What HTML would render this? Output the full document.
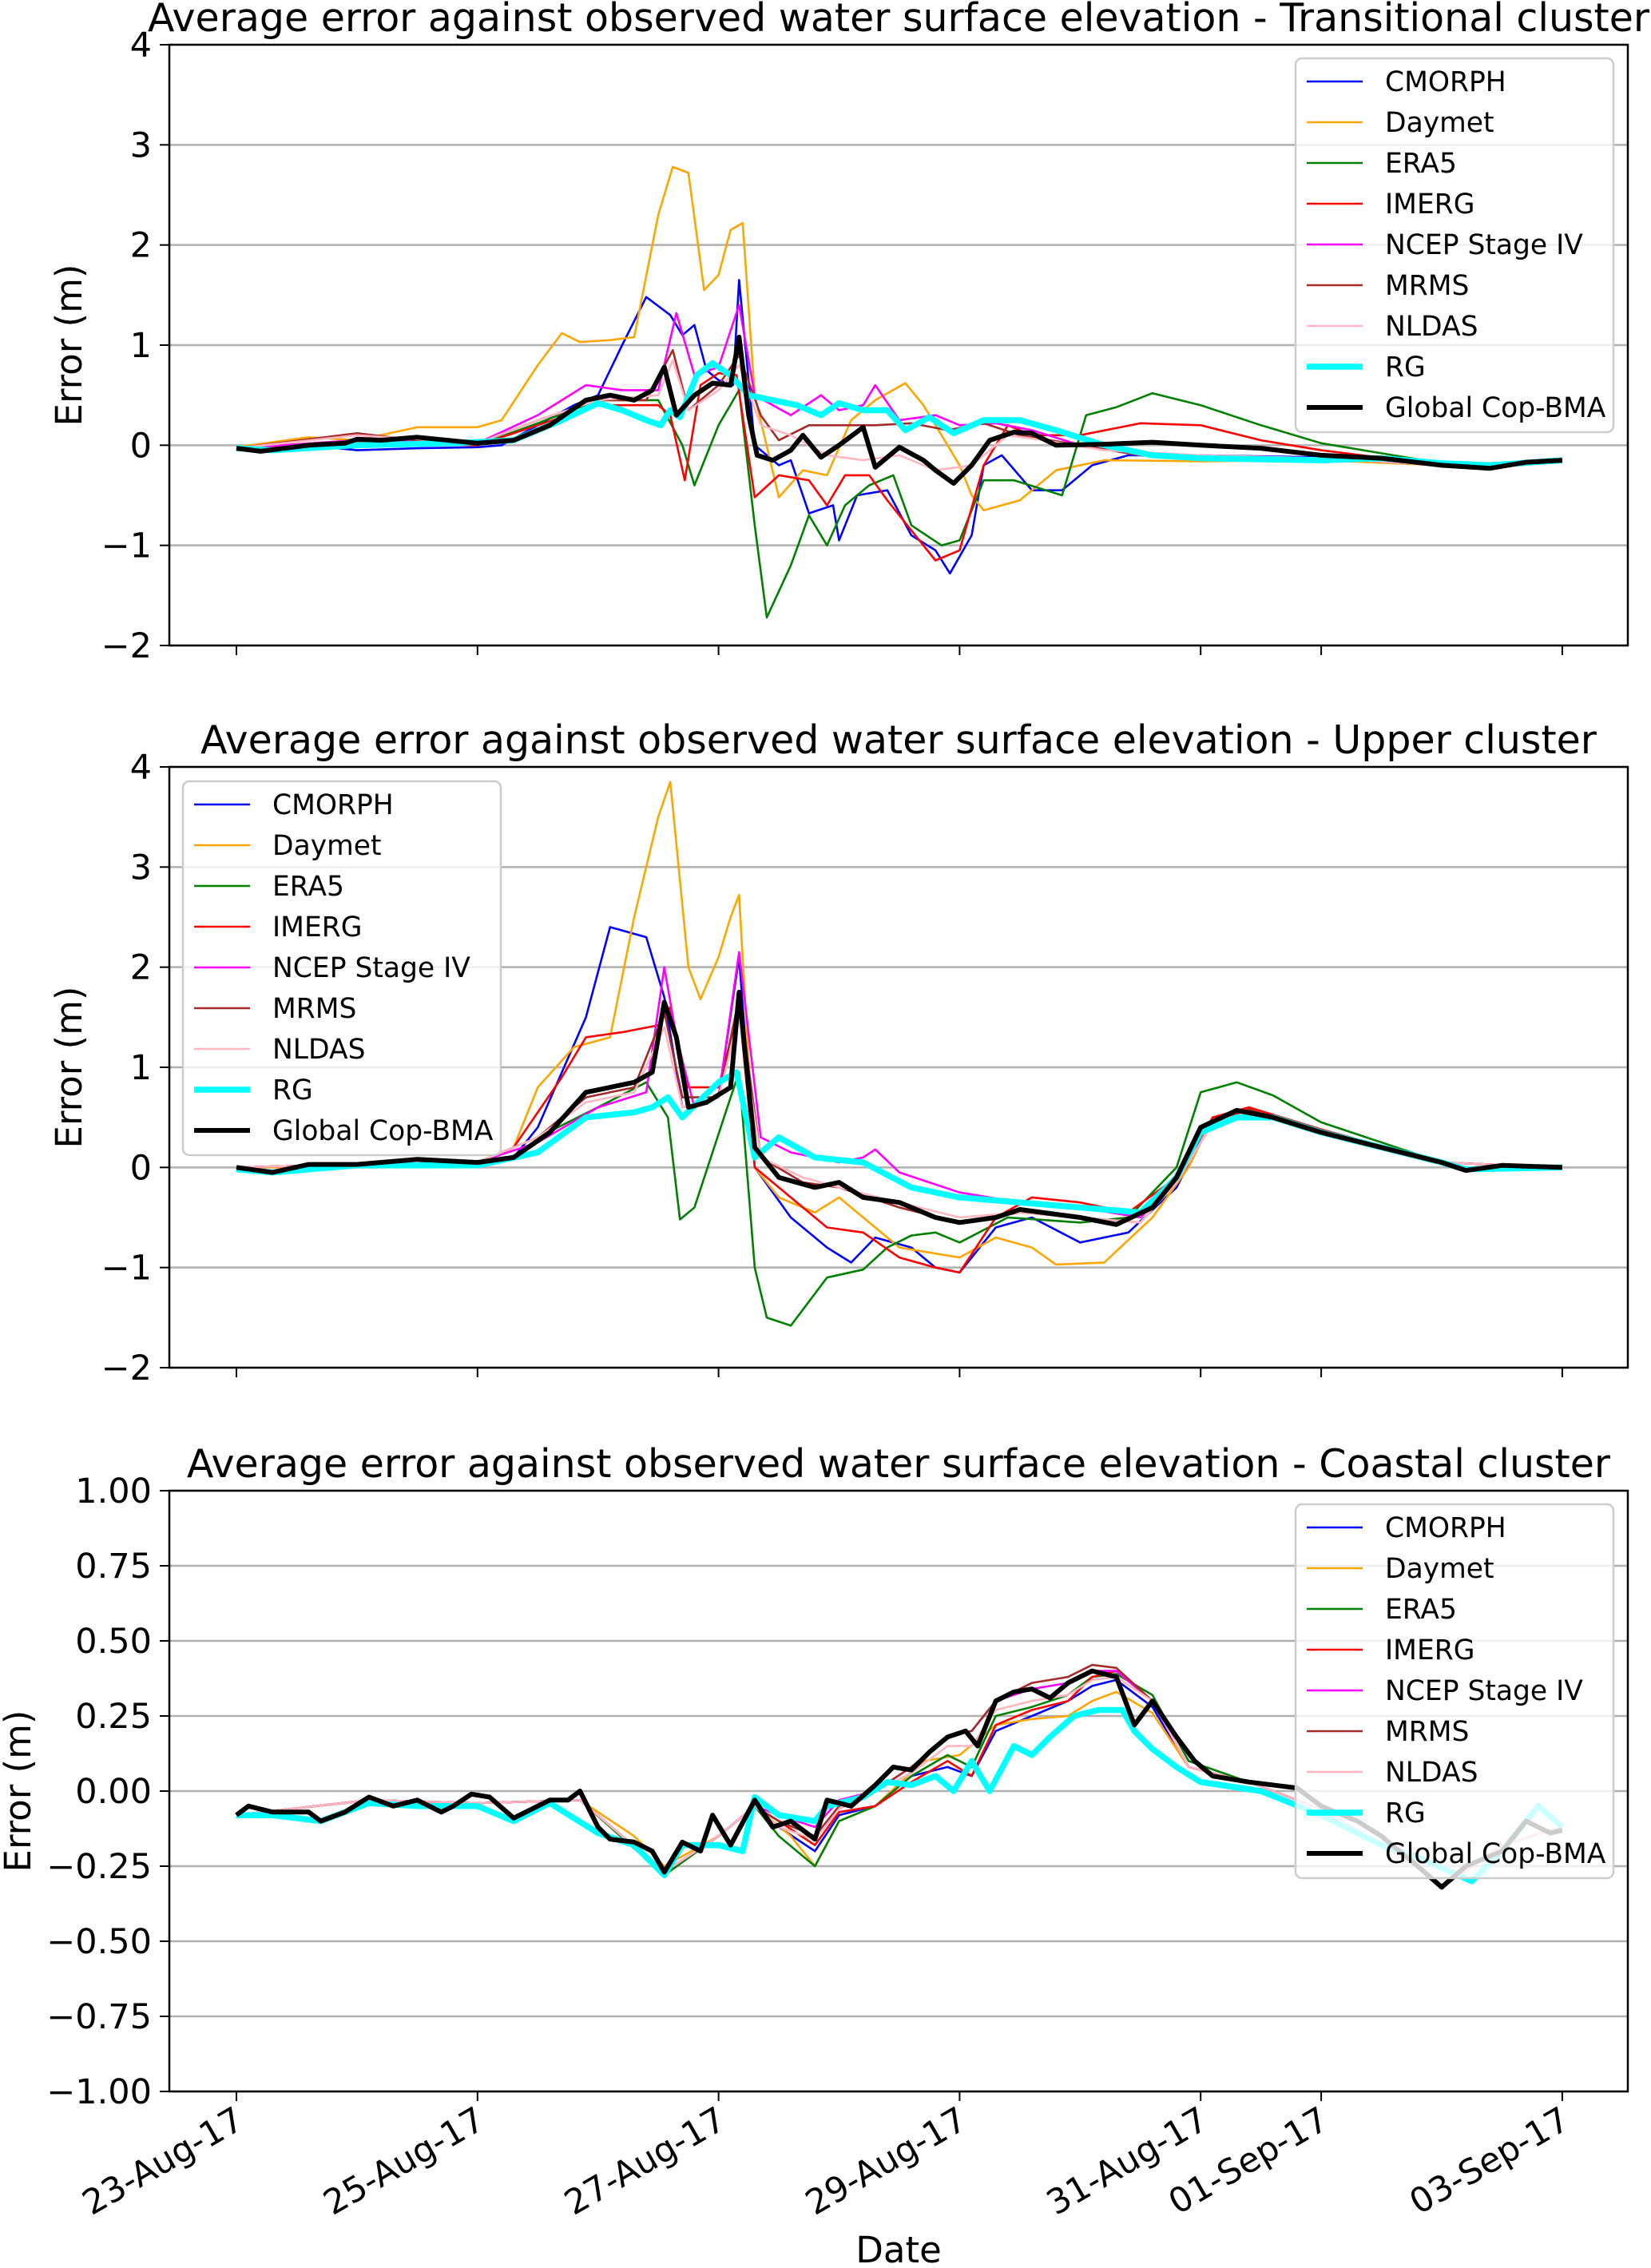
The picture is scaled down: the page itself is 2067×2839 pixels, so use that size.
<!DOCTYPE html>
<html><head><meta charset="utf-8">
<style>
html,body{margin:0;padding:0;background:#fff;}
svg{display:block;font-family:"DejaVu Sans","Liberation Sans",sans-serif;}
</style></head>
<body>
<svg id="chart" width="2067" height="2839" viewBox="0 0 2067 2839" xmlns="http://www.w3.org/2000/svg"></svg>
<script>
// ---- shared data ----
const seriesNames = ["CMORPH","Daymet","ERA5","IMERG","NCEP Stage IV","MRMS","NLDAS","RG","Global Cop-BMA"];
const dateTickDays = [0,2,4,6,8,9,11];
const dateTickLabels = ["23-Aug-17","25-Aug-17","27-Aug-17","29-Aug-17","31-Aug-17","01-Sep-17","03-Sep-17"];
const p1Title = "Average error against observed water surface elevation - Transitional cluster";
const p2Title = "Average error against observed water surface elevation - Upper cluster";
const p3Title = "Average error against observed water surface elevation - Coastal cluster";
const p1Ticks = [4,3,2,1,0,-1,-2];
const p1TickLabels = ["4","3","2","1","0","\u22121","\u22122"];
const p2Ticks = [4,3,2,1,0,-1,-2];
const p2TickLabels = ["4","3","2","1","0","\u22121","\u22122"];
const p3Ticks = [1,0.75,0.5,0.25,0,-0.25,-0.5,-0.75,-1];
const p3TickLabels = ["1.00","0.75","0.50","0.25","0.00","\u22120.25","\u22120.50","\u22120.75","\u22121.00"];

// ---- panel 1 (Transitional) : [day, error] ----
const p1_cmorph = [[0,-0.03],[0.3,-0.05],[0.6,0.0],[1.0,-0.05],[1.5,-0.03],[2.0,-0.02],[2.2,0.0],[2.5,0.2],[2.8,0.4],[3.0,0.5],[3.2,1.0],[3.4,1.48],[3.6,1.3],[3.7,1.1],[3.8,1.2],[3.9,0.75],[4.0,0.65],[4.12,0.6],[4.17,1.65],[4.3,0.0],[4.5,-0.2],[4.6,-0.15],[4.75,-0.68],[4.95,-0.6],[5.0,-0.95],[5.15,-0.5],[5.4,-0.45],[5.6,-0.9],[5.8,-1.05],[5.92,-1.28],[6.1,-0.9],[6.2,-0.2],[6.35,-0.1],[6.6,-0.45],[6.85,-0.45],[7.1,-0.2],[7.4,-0.1],[8,-0.1],[9,-0.12],[10,-0.2],[10.4,-0.22],[11,-0.15]];
const p1_daymet = [[0,-0.02],[0.6,0.08],[1.0,0.05],[1.5,0.18],[2.0,0.18],[2.2,0.25],[2.5,0.8],[2.7,1.12],[2.85,1.03],[3.1,1.05],[3.3,1.08],[3.5,2.3],[3.62,2.78],[3.75,2.72],[3.88,1.55],[4.0,1.7],[4.1,2.15],[4.2,2.22],[4.3,0.5],[4.5,-0.52],[4.7,-0.25],[4.9,-0.3],[5.1,0.25],[5.3,0.45],[5.55,0.62],[5.7,0.4],[5.85,0.1],[6.0,-0.2],[6.1,-0.5],[6.2,-0.65],[6.5,-0.55],[6.8,-0.25],[7.2,-0.15],[8,-0.16],[9,-0.15],[10,-0.2],[11,-0.15]];
const p1_era5 = [[0,-0.03],[1.0,0.05],[2.0,0.0],[2.5,0.22],[3.0,0.45],[3.5,0.45],[3.7,0.0],[3.8,-0.4],[4.0,0.2],[4.17,0.55],[4.3,-0.8],[4.4,-1.72],[4.6,-1.2],[4.75,-0.7],[4.9,-1.0],[5.05,-0.6],[5.25,-0.4],[5.45,-0.3],[5.6,-0.8],[5.85,-1.0],[6.0,-0.95],[6.2,-0.35],[6.45,-0.35],[6.85,-0.5],[7.05,0.3],[7.3,0.38],[7.6,0.52],[8.0,0.4],[8.5,0.2],[9,0.02],[9.5,-0.08],[10,-0.18],[10.5,-0.2],[11,-0.15]];
const p1_imerg = [[0,-0.03],[1.0,0.03],[2,0.0],[2.5,0.2],[3.0,0.4],[3.5,0.4],[3.6,0.3],[3.72,-0.35],[3.85,0.6],[4.0,0.72],[4.15,0.7],[4.3,-0.52],[4.5,-0.3],[4.75,-0.35],[4.9,-0.6],[5.05,-0.3],[5.25,-0.3],[5.4,-0.55],[5.6,-0.85],[5.8,-1.15],[6.0,-1.05],[6.2,-0.2],[6.4,0.2],[6.6,0.1],[7.0,0.1],[7.5,0.22],[8,0.2],[8.5,0.05],[9,-0.05],[10,-0.2],[11,-0.15]];
const p1_ncep = [[0,-0.03],[1.0,0.05],[2.0,0.02],[2.5,0.3],[2.9,0.6],[3.2,0.55],[3.5,0.55],[3.65,1.32],[3.8,0.7],[4.0,0.78],[4.17,1.4],[4.3,0.5],[4.6,0.3],[4.85,0.5],[5.0,0.35],[5.2,0.4],[5.3,0.6],[5.5,0.25],[5.8,0.3],[6.0,0.2],[6.3,0.22],[6.6,0.15],[7,0.0],[7.5,-0.1],[8,-0.12],[9,-0.13],[10,-0.2],[11,-0.15]];
const p1_mrms = [[0,-0.03],[1.0,0.12],[1.5,0.05],[2.0,0.02],[2.5,0.25],[3.0,0.45],[3.4,0.45],[3.62,0.95],[3.75,0.35],[4.0,0.6],[4.17,0.9],[4.35,0.3],[4.5,0.05],[4.75,0.2],[5.0,0.2],[5.3,0.2],[5.6,0.22],[5.9,0.15],[6.2,0.22],[6.5,0.1],[7,0.0],[7.5,-0.1],[8,-0.12],[9,-0.13],[10,-0.2],[11,-0.15]];
const p1_nldas = [[0,-0.03],[1.0,0.1],[2.0,0.02],[2.5,0.25],[3.0,0.45],[3.5,0.5],[3.62,0.85],[3.75,0.35],[4.0,0.55],[4.17,0.8],[4.35,0.2],[4.6,0.1],[4.9,-0.1],[5.2,-0.15],[5.5,-0.1],[5.8,-0.25],[6.1,-0.2],[6.4,0.1],[6.7,0.05],[7.2,-0.05],[8,-0.1],[9,-0.13],[10,-0.2],[11,-0.15]];
const p1_rg = [[0,-0.03],[0.3,-0.05],[1.0,0.0],[1.8,0.02],[2.3,0.05],[2.7,0.25],[3.0,0.42],[3.2,0.35],[3.4,0.25],[3.52,0.2],[3.6,0.35],[3.68,0.28],[3.82,0.7],[3.95,0.82],[4.1,0.7],[4.25,0.5],[4.45,0.45],[4.65,0.4],[4.85,0.3],[5.0,0.42],[5.2,0.35],[5.4,0.35],[5.55,0.15],[5.75,0.28],[5.95,0.12],[6.2,0.25],[6.5,0.25],[6.8,0.15],[7.2,0.0],[7.6,-0.1],[8.0,-0.13],[9,-0.15],[9.5,-0.13],[10,-0.18],[10.4,-0.2],[11,-0.15]];
const p1_global = [[0,-0.03],[0.2,-0.06],[0.6,0.0],[0.9,0.02],[1.0,0.06],[1.2,0.05],[1.5,0.08],[2.0,0.02],[2.3,0.05],[2.6,0.2],[2.9,0.45],[3.1,0.5],[3.3,0.45],[3.45,0.55],[3.55,0.78],[3.65,0.3],[3.8,0.5],[3.95,0.62],[4.1,0.6],[4.17,1.08],[4.25,0.3],[4.32,-0.1],[4.45,-0.15],[4.6,-0.05],[4.7,0.1],[4.85,-0.12],[5.0,0.0],[5.2,0.18],[5.3,-0.22],[5.5,-0.02],[5.7,-0.15],[5.8,-0.25],[5.95,-0.38],[6.1,-0.2],[6.25,0.05],[6.45,0.13],[6.6,0.12],[6.8,0.0],[7.2,0.01],[7.6,0.03],[8,0.0],[8.5,-0.03],[9,-0.1],[9.5,-0.13],[10,-0.2],[10.4,-0.23],[10.7,-0.17],[11,-0.15]];

// ---- panel 2 (Upper) ----
const p2_cmorph = [[0,0],[0.3,-0.05],[1,0.03],[2,0.05],[2.3,0.1],[2.5,0.4],[2.9,1.5],[3.1,2.4],[3.4,2.3],[3.55,1.7],[3.7,0.6],[4.0,0.7],[4.17,2.1],[4.3,0.0],[4.6,-0.5],[4.9,-0.8],[5.1,-0.95],[5.3,-0.7],[5.6,-0.8],[5.8,-1.0],[6.0,-1.05],[6.3,-0.6],[6.6,-0.5],[7.0,-0.75],[7.4,-0.65],[7.8,-0.2],[8.1,0.5],[8.4,0.55],[9,0.35],[10,0.05],[10.2,-0.02],[11,0.0]];
const p2_daymet = [[0,0],[1,0.0],[2,0.05],[2.3,0.2],[2.5,0.8],[2.8,1.2],[3.1,1.3],[3.3,2.5],[3.5,3.5],[3.6,3.85],[3.75,2.0],[3.85,1.68],[4.0,2.1],[4.1,2.5],[4.17,2.72],[4.3,0.0],[4.5,-0.3],[4.8,-0.45],[5.0,-0.3],[5.3,-0.6],[5.5,-0.8],[6.0,-0.9],[6.3,-0.7],[6.6,-0.8],[6.8,-0.97],[7.2,-0.95],[7.6,-0.5],[7.9,0.0],[8.1,0.5],[8.4,0.55],[9,0.35],[10,0.05],[11,0.0]];
const p2_era5 = [[0,0],[1,0.03],[2,0.05],[2.5,0.3],[3.0,0.6],[3.4,0.85],[3.58,0.5],[3.68,-0.52],[3.8,-0.4],[4.1,0.7],[4.17,0.95],[4.3,-1.0],[4.4,-1.5],[4.6,-1.58],[4.9,-1.1],[5.2,-1.02],[5.4,-0.8],[5.6,-0.68],[5.8,-0.65],[6.0,-0.75],[6.4,-0.5],[7.0,-0.55],[7.4,-0.5],[7.8,0.0],[8.0,0.75],[8.3,0.85],[8.6,0.72],[9,0.45],[10,0.05],[11,0.0]];
const p2_imerg = [[0,0],[1,0.03],[2,0.05],[2.3,0.2],[2.7,0.9],[2.9,1.3],[3.2,1.35],[3.5,1.42],[3.6,1.6],[3.75,0.8],[4.0,0.8],[4.17,1.6],[4.3,0.0],[4.6,-0.3],[4.9,-0.6],[5.2,-0.65],[5.5,-0.9],[5.8,-1.0],[6.0,-1.05],[6.3,-0.5],[6.6,-0.3],[7.0,-0.35],[7.4,-0.45],[7.8,-0.1],[8.1,0.5],[8.4,0.6],[9,0.38],[10,0.05],[11,0.0]];
const p2_ncep = [[0,0],[1,0.03],[2,0.05],[2.5,0.25],[3.0,0.6],[3.4,0.75],[3.55,2.0],[3.65,1.3],[3.8,0.6],[4.0,0.7],[4.17,2.15],[4.35,0.3],[4.6,0.15],[5.0,0.05],[5.2,0.1],[5.3,0.18],[5.5,-0.05],[6.0,-0.25],[6.5,-0.35],[7.0,-0.4],[7.5,-0.5],[7.8,-0.15],[8.1,0.45],[8.4,0.55],[9,0.35],[10,0.05],[11,0.0]];
const p2_mrms = [[0,0],[1,0.03],[2,0.05],[2.5,0.3],[2.9,0.7],[3.3,0.8],[3.55,1.55],[3.7,0.7],[4.0,0.7],[4.17,1.7],[4.35,0.1],[4.7,-0.15],[5.0,-0.2],[5.5,-0.4],[6.0,-0.55],[6.5,-0.45],[7.0,-0.5],[7.5,-0.55],[7.8,-0.15],[8.1,0.45],[8.4,0.58],[9,0.35],[10,0.05],[11,0.0]];
const p2_nldas = [[0,0],[1,0.03],[2,0.05],[2.5,0.3],[2.9,0.65],[3.3,0.75],[3.55,1.4],[3.7,0.6],[4.0,0.7],[4.17,1.5],[4.35,0.1],[4.7,-0.1],[5.0,-0.2],[5.5,-0.35],[6.0,-0.5],[6.5,-0.45],[7.0,-0.5],[7.5,-0.55],[7.8,-0.15],[8.1,0.45],[8.4,0.55],[9,0.35],[10,0.05],[11,0.0]];
const p2_rg = [[0,-0.02],[0.3,-0.05],[1.0,0.02],[2.0,0.02],[2.5,0.15],[2.9,0.5],[3.3,0.55],[3.45,0.6],[3.58,0.7],[3.7,0.5],[4.0,0.85],[4.15,0.95],[4.3,0.1],[4.5,0.3],[4.8,0.1],[5.2,0.05],[5.6,-0.2],[6.0,-0.3],[6.5,-0.35],[7.0,-0.4],[7.5,-0.45],[7.8,-0.1],[8.0,0.35],[8.3,0.5],[8.6,0.5],[9,0.35],[10,0.05],[10.2,-0.02],[11,0.0]];
const p2_global = [[0,0],[0.3,-0.05],[0.6,0.03],[1.0,0.03],[1.5,0.08],[2.0,0.05],[2.3,0.1],[2.6,0.35],[2.9,0.75],[3.1,0.8],[3.3,0.85],[3.45,0.95],[3.55,1.65],[3.65,1.3],[3.75,0.6],[3.9,0.65],[4.1,0.8],[4.17,1.75],[4.3,0.2],[4.5,-0.1],[4.8,-0.2],[5.0,-0.15],[5.2,-0.3],[5.5,-0.35],[5.8,-0.5],[6.0,-0.55],[6.3,-0.5],[6.5,-0.42],[7.0,-0.5],[7.3,-0.57],[7.6,-0.4],[7.8,-0.1],[8.0,0.4],[8.3,0.57],[8.6,0.5],[9,0.35],[9.5,0.2],[10,0.05],[10.2,-0.03],[10.5,0.02],[11,0.0]];

// ---- panel 3 (Coastal) ----
const p3_cmorph = [[0,-0.08],[1.1,-0.03],[2.0,-0.04],[2.85,-0.03],[3.55,-0.27],[4.0,-0.15],[4.3,-0.05],[4.5,-0.12],[4.8,-0.2],[5.0,-0.08],[5.3,-0.05],[5.6,0.05],[5.9,0.08],[6.1,0.05],[6.3,0.2],[6.6,0.25],[6.9,0.3],[7.1,0.35],[7.3,0.37],[7.6,0.28],[7.9,0.08],[8.4,0.03],[9.0,-0.06],[9.8,-0.25],[10.0,-0.32],[10.5,-0.18],[11,-0.12]];
const p3_daymet = [[0,-0.08],[1.1,-0.03],[2.0,-0.04],[2.85,-0.03],[3.3,-0.15],[3.55,-0.25],[4.0,-0.15],[4.3,-0.05],[4.6,-0.15],[4.8,-0.25],[5.0,-0.1],[5.3,-0.05],[5.7,0.1],[6.0,0.12],[6.3,0.22],[6.6,0.24],[6.9,0.25],[7.1,0.3],[7.3,0.33],[7.6,0.26],[7.9,0.08],[8.4,0.03],[9.0,-0.06],[9.8,-0.25],[10.0,-0.32],[10.5,-0.18],[11,-0.12]];
const p3_era5 = [[0,-0.08],[1.1,-0.03],[2.0,-0.04],[2.85,-0.03],[3.55,-0.28],[4.0,-0.15],[4.3,-0.05],[4.5,-0.15],[4.8,-0.25],[5.0,-0.1],[5.3,-0.05],[5.6,0.05],[5.9,0.12],[6.1,0.08],[6.3,0.25],[6.6,0.28],[6.9,0.32],[7.1,0.38],[7.3,0.39],[7.6,0.32],[7.9,0.1],[8.4,0.03],[9.0,-0.06],[9.8,-0.25],[10.0,-0.32],[10.5,-0.18],[11,-0.12]];
const p3_imerg = [[0,-0.08],[1.1,-0.03],[2.0,-0.04],[2.85,-0.03],[3.55,-0.27],[4.0,-0.15],[4.3,-0.05],[4.5,-0.1],[4.8,-0.18],[5.0,-0.07],[5.3,-0.05],[5.6,0.03],[5.9,0.1],[6.1,0.05],[6.3,0.22],[6.6,0.27],[6.9,0.3],[7.1,0.38],[7.3,0.4],[7.6,0.3],[7.9,0.08],[8.4,0.03],[9.0,-0.06],[9.8,-0.25],[10.0,-0.32],[10.5,-0.18],[11,-0.12]];
const p3_ncep = [[0,-0.08],[1.1,-0.03],[2.0,-0.04],[2.85,-0.03],[3.55,-0.27],[4.0,-0.15],[4.3,-0.05],[4.5,-0.08],[4.8,-0.12],[5.0,-0.03],[5.3,0.0],[5.6,0.08],[5.9,0.18],[6.1,0.2],[6.3,0.3],[6.6,0.34],[6.9,0.36],[7.1,0.4],[7.3,0.4],[7.6,0.3],[7.9,0.08],[8.4,0.03],[9.0,-0.06],[9.8,-0.25],[10.0,-0.32],[10.5,-0.18],[11,-0.12]];
const p3_mrms = [[0,-0.08],[1.1,-0.03],[2.0,-0.04],[2.85,-0.03],[3.55,-0.27],[4.0,-0.15],[4.3,-0.05],[4.5,-0.1],[4.8,-0.15],[5.0,-0.05],[5.3,0.0],[5.6,0.08],[5.9,0.18],[6.1,0.2],[6.3,0.3],[6.6,0.36],[6.9,0.38],[7.1,0.42],[7.3,0.41],[7.6,0.3],[7.9,0.08],[8.4,0.03],[9.0,-0.06],[9.8,-0.25],[10.0,-0.32],[10.5,-0.18],[11,-0.12]];
const p3_nldas = [[0,-0.08],[1.1,-0.03],[2.0,-0.04],[2.85,-0.03],[3.55,-0.27],[4.0,-0.15],[4.3,-0.05],[4.5,-0.12],[4.8,-0.16],[5.0,-0.06],[5.3,0.0],[5.6,0.06],[5.9,0.15],[6.1,0.15],[6.3,0.27],[6.6,0.3],[6.9,0.32],[7.1,0.37],[7.3,0.38],[7.6,0.3],[7.9,0.08],[8.4,0.03],[9.0,-0.06],[9.8,-0.25],[10.0,-0.32],[10.5,-0.18],[11,-0.12]];
const p3_rg = [[0,-0.08],[0.3,-0.08],[0.7,-0.1],[1.1,-0.04],[1.5,-0.05],[2.0,-0.05],[2.3,-0.1],[2.6,-0.04],[3.0,-0.14],[3.3,-0.18],[3.55,-0.28],[3.7,-0.18],[4.0,-0.18],[4.2,-0.2],[4.3,-0.02],[4.5,-0.08],[4.8,-0.1],[4.9,-0.05],[5.2,-0.02],[5.4,0.03],[5.6,0.02],[5.8,0.05],[5.95,0.0],[6.1,0.1],[6.25,0.0],[6.45,0.15],[6.6,0.12],[6.75,0.18],[6.95,0.25],[7.15,0.27],[7.35,0.27],[7.45,0.2],[7.6,0.14],[7.8,0.08],[8.0,0.03],[8.5,0.0],[9.0,-0.08],[9.5,-0.18],[9.8,-0.22],[10.25,-0.3],[10.5,-0.2],[10.8,-0.05],[11,-0.12]];
const p3_global = [[0,-0.08],[0.1,-0.05],[0.3,-0.07],[0.6,-0.07],[0.7,-0.1],[0.9,-0.07],[1.1,-0.02],[1.3,-0.05],[1.5,-0.03],[1.7,-0.07],[1.8,-0.05],[1.95,-0.01],[2.1,-0.02],[2.3,-0.09],[2.4,-0.07],[2.6,-0.03],[2.75,-0.03],[2.85,0.0],[3.0,-0.12],[3.1,-0.16],[3.3,-0.17],[3.45,-0.2],[3.55,-0.27],[3.7,-0.17],[3.85,-0.2],[3.95,-0.08],[4.1,-0.18],[4.3,-0.03],[4.45,-0.12],[4.6,-0.1],[4.8,-0.16],[4.9,-0.03],[5.1,-0.05],[5.3,0.02],[5.45,0.08],[5.6,0.07],[5.75,0.13],[5.9,0.18],[6.05,0.2],[6.15,0.15],[6.3,0.3],[6.45,0.33],[6.6,0.34],[6.75,0.31],[6.9,0.36],[7.1,0.4],[7.3,0.38],[7.45,0.22],[7.6,0.3],[7.8,0.18],[7.95,0.1],[8.1,0.05],[8.4,0.03],[8.8,0.01],[9.0,-0.05],[9.3,-0.1],[9.5,-0.15],[9.8,-0.25],[10.0,-0.32],[10.2,-0.25],[10.5,-0.2],[10.7,-0.1],[10.9,-0.14],[11,-0.13]];

// ---- styling / layout (not data) ----
const colors = ["#0000ff","#ffa500","#008000","#ff0000","#ff00ff","#a52a2a","#ffb6c1","#00ffff","#000000"];
const widths = [2.6,2.6,2.6,2.6,2.6,2.6,2.6,7.5,6];
const AX_L = 212, AX_R = 2038, DAY0 = 296, DAYW = 150.9;
const svg = document.getElementById('chart');
const NS = "http://www.w3.org/2000/svg";
function mk(tag, attrs, parent){ const e=document.createElementNS(NS,tag); for(const k in attrs) e.setAttribute(k,attrs[k]); (parent||svg).appendChild(e); return e; }
function xScale(t){ return DAY0 + t*DAYW; }

function drawPanel(idx, top, bottom, yMin, yMax, ticks, tickLabels, title, data, legendX, legendY, showDates, ylabelX){
  const yScale = v => bottom - (v - yMin)/(yMax - yMin)*(bottom - top);
  const g = mk('g',{});
  
  
  const clipId = 'clip'+idx;
  const cp = mk('clipPath',{id:clipId},g); mk('rect',{x:AX_L,y:top,width:AX_R-AX_L,height:bottom-top},cp);
  ticks.forEach((v,i)=>{
    const y = yScale(v);
    const gl = mk('line',{x1:AX_L,x2:AX_R,y1:y,y2:y,stroke:'#b0b0b0','stroke-width':2.5},g);
    
    
    mk('line',{x1:AX_L-12,x2:AX_L,y1:y,y2:y,stroke:'#000','stroke-width':2},g);
    const tl = mk('text',{x:AX_L-22,y:y+15,'text-anchor':'end','font-size':43,fill:'#000'},g);
    tl.textContent = tickLabels[i];
    
    
  });
  const sg = mk('g',{'clip-path':'url(#'+clipId+')'},g);
  data.forEach((s,si)=>{
    const d = s.map((p,j)=>(j?'L':'M')+xScale(p[0]).toFixed(1)+','+yScale(p[1]).toFixed(1)).join('');
    const path = mk('path',{d:d,fill:'none',stroke:colors[si],'stroke-width':widths[si],'stroke-linejoin':'round'},sg);
    
    
  });
  dateTickDays.forEach((t,i)=>{
    const x = xScale(t);
    mk('line',{x1:x,x2:x,y1:bottom,y2:bottom+12,stroke:'#000','stroke-width':2},g);
    if(showDates){
      const tx = mk('text',{x:0,y:0,'text-anchor':'end','font-size':43,fill:'#000',transform:'translate('+(x+12)+','+(bottom+44)+') rotate(-30)'},g);
      tx.textContent = dateTickLabels[i];
      
      
    }
  });
  const fr = mk('rect',{x:AX_L,y:top,width:AX_R-AX_L,height:bottom-top,fill:'none',stroke:'#000','stroke-width':2.5},g);
  
  
  const tt = mk('text',{x:(AX_L+AX_R)/2,y:top-17,'text-anchor':'middle','font-size':49,fill:'#000'},g);
  tt.textContent = title;
  
  
  const yl = mk('text',{x:0,y:0,'text-anchor':'middle','font-size':45,fill:'#000',transform:'translate('+ylabelX+','+((top+bottom)/2)+') rotate(-90)'},g);
  yl.textContent = 'Error (m)';
  
  
  const lg = mk('g',{},g);
  
  
  mk('rect',{x:legendX,y:legendY,width:398,height:468,rx:8,fill:'#fff','fill-opacity':0.8,stroke:'#cccccc','stroke-width':2.5},lg);
  seriesNames.forEach((n,i)=>{
    const cy = legendY + 29 + i*51;
    const e = mk('g',{},lg);
    
    
    mk('line',{x1:legendX+14,x2:legendX+84,y1:cy,y2:cy,stroke:colors[i],'stroke-width':widths[i]},e);
    const t = mk('text',{x:legendX+112,y:cy+12,'font-size':34.5,fill:'#000'},e);
    t.textContent = n;
  });
}

drawPanel(1,56,808,-2,4,p1Ticks,p1TickLabels,p1Title,[p1_cmorph,p1_daymet,p1_era5,p1_imerg,p1_ncep,p1_mrms,p1_nldas,p1_rg,p1_global],1622,73,false,102);
drawPanel(2,960,1712,-2,4,p2Ticks,p2TickLabels,p2Title,[p2_cmorph,p2_daymet,p2_era5,p2_imerg,p2_ncep,p2_mrms,p2_nldas,p2_rg,p2_global],229,978,false,102);
drawPanel(3,1866,2618,-1,1,p3Ticks,p3TickLabels,p3Title,[p3_cmorph,p3_daymet,p3_era5,p3_imerg,p3_ncep,p3_mrms,p3_nldas,p3_rg,p3_global],1622,1883,true,38);

const xl = mk('text',{x:1125,y:2832,'text-anchor':'middle','font-size':45,fill:'#000'});
xl.textContent = 'Date';


</script>
</body></html>
